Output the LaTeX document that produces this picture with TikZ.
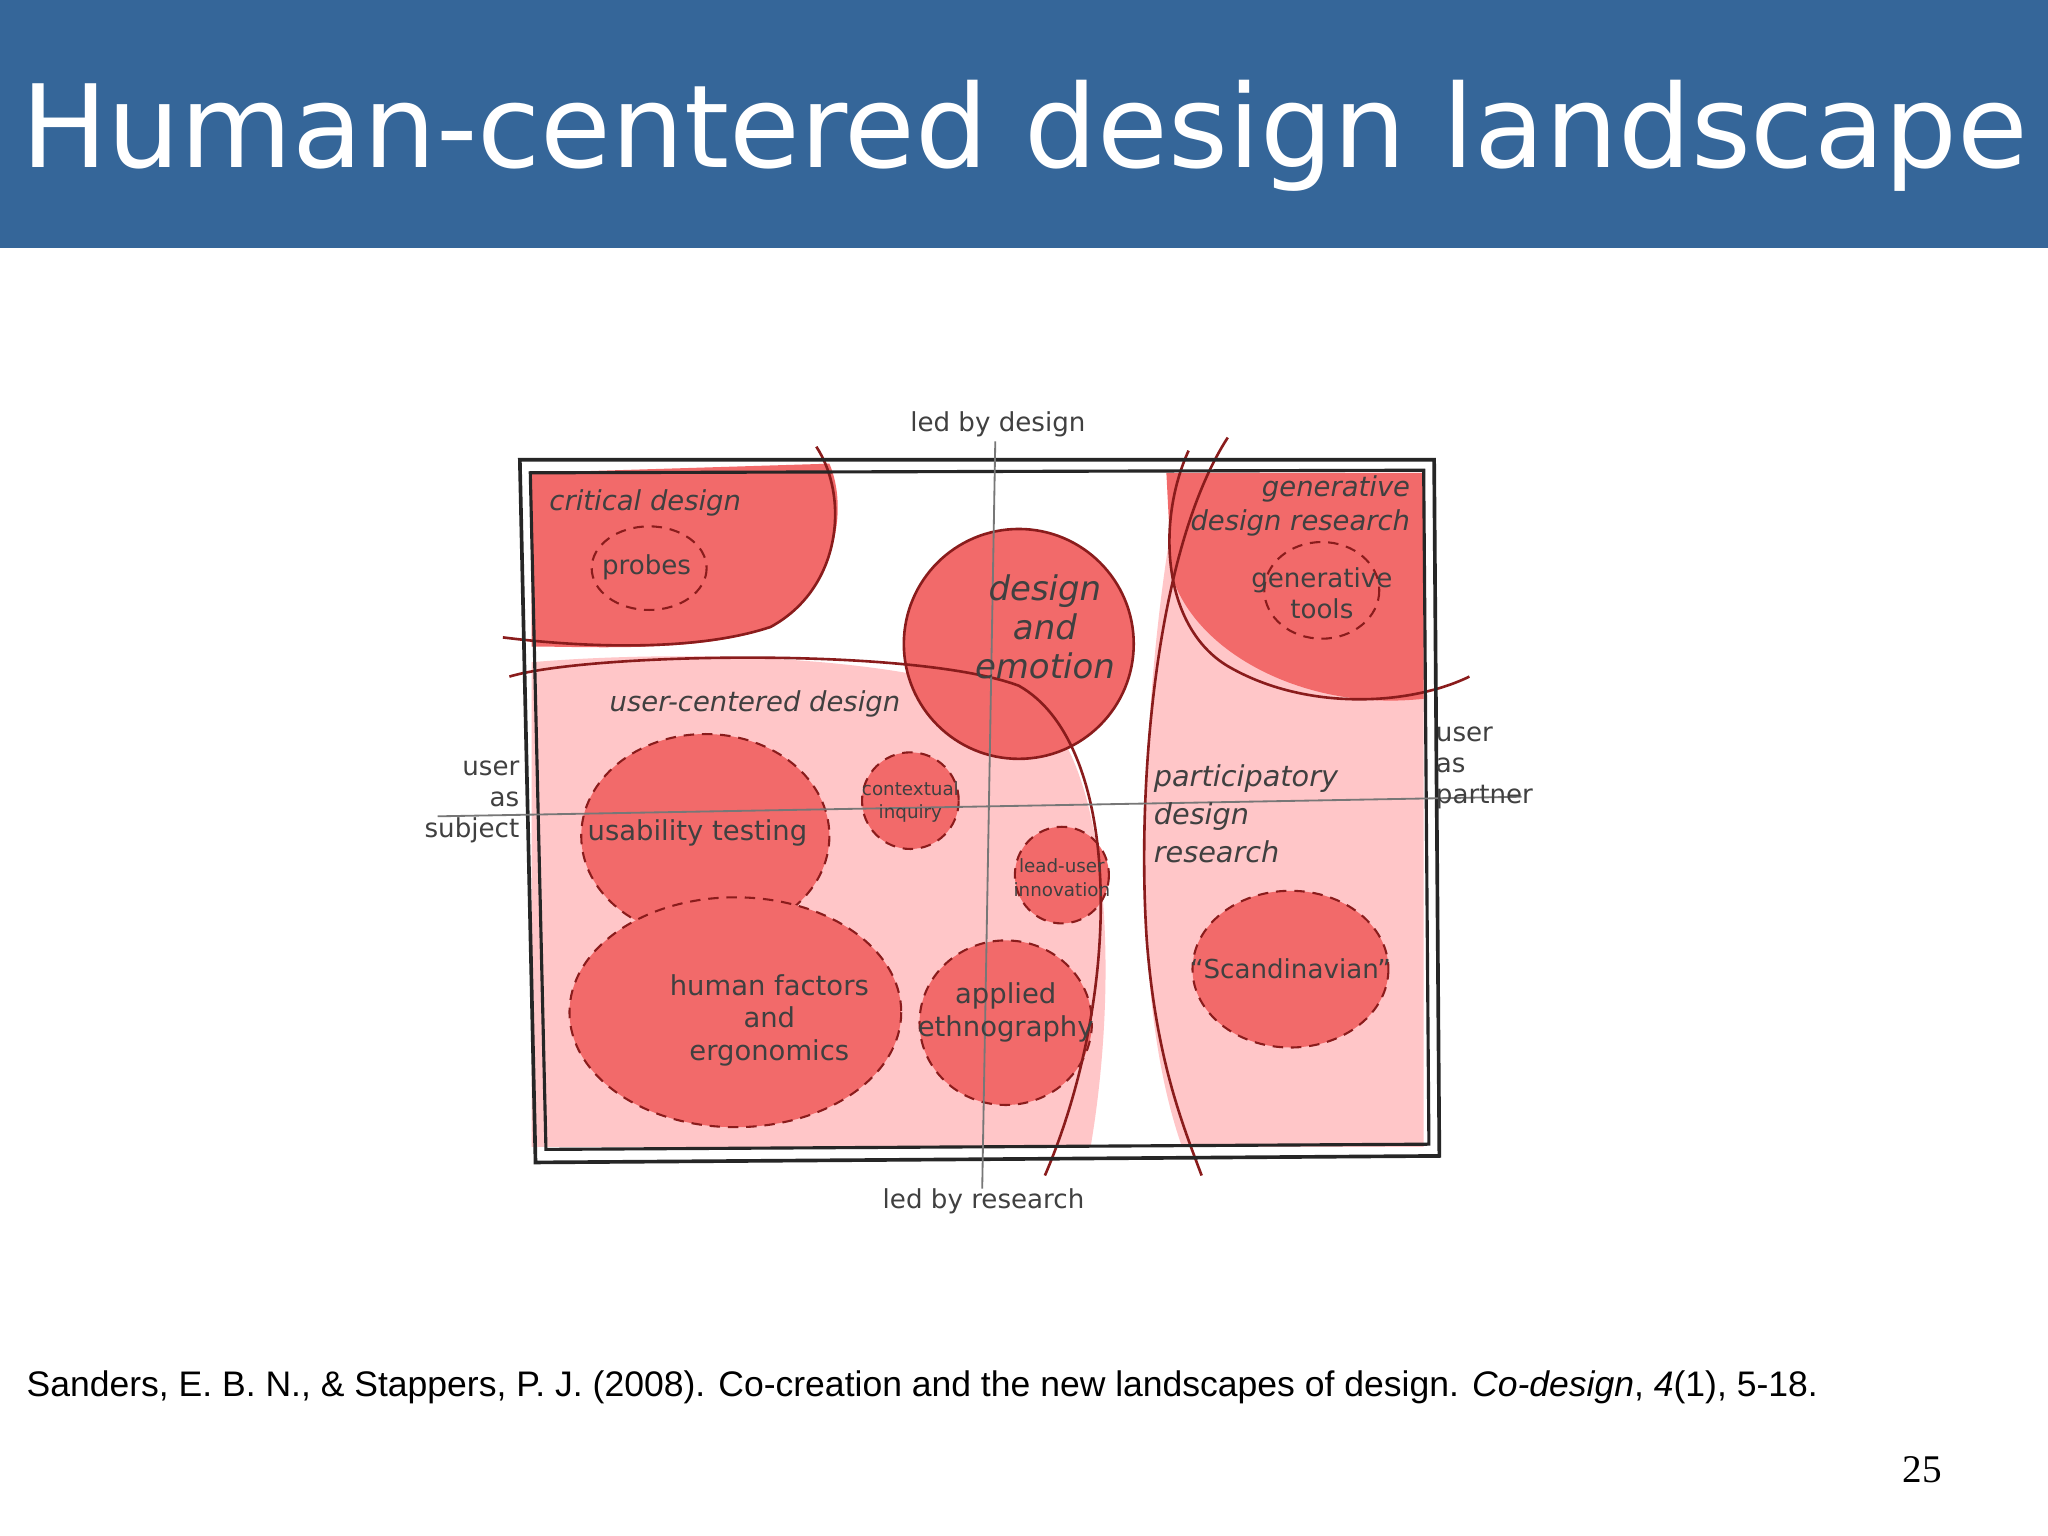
\documentclass[tikz,border=0pt]{standalone}
\usepackage{fontspec}
\setmainfont{DejaVu Sans}
\newfontfamily\citefont{Liberation Sans}
\newfontfamily\numfont{Liberation Serif}
\definecolor{band}{HTML}{356699}
\definecolor{lpink}{HTML}{FFC6C8}
\definecolor{rred}{HTML}{F26A6A}
\definecolor{dred}{HTML}{8A1C1C}
\definecolor{axis}{HTML}{777777}
\tikzset{
  blob/.style={fill=rred,draw=dred,dashed,line width=0.8pt,dash pattern=on 4pt off 3pt},
  edge/.style={draw=dred,line width=1pt},
  lab/.style={font=\fontsize{10}{12}\selectfont,text=black!75,align=center,inner sep=0pt},
  ilab/.style={font=\fontsize{10.5}{13}\selectfont\itshape,text=black!75,align=left,inner sep=0pt},
}
\begin{document}
\begin{tikzpicture}[x=0.5pt,y=-0.5pt]
\useasboundingbox (0,0) rectangle (1568,1176);
\fill[white] (0,0) rectangle (1568,1176);
\fill[band] (0,0) rectangle (1568,190);
\node[anchor=base west,text=white,font=\fontsize{44}{50}\selectfont,inner sep=0pt] (title) at (16,128) {Human-centered design landscape};
% regions
\fill[lpink] (407,507) .. controls (550,495) and (760,505) .. (810,560) .. controls (850,620) and (855,760) .. (835,878) -- (407,878) -- cycle;
\fill[lpink] (905,362) .. controls (885,450) and (872,600) .. (878,720) .. controls (882,800) and (895,850) .. (905,878) -- (1090,878) -- (1090,362) -- cycle;
\fill[rred] (893,362) -- (1090,362) -- (1090,535) .. controls (1000,545) and (915,500) .. (897,440) -- cycle;
\fill[rred] (407,362) -- (635,355) .. controls (650,390) and (640,450) .. (590,480) .. controls (540,500) and (450,495) .. (407,495) -- cycle;
% circles
\draw[blob] (540,640) ellipse [x radius=95,y radius=78];
\draw[blob] (563,775) ellipse [x radius=127,y radius=88];
\draw[blob] (697,613) circle [radius=37];
\draw[blob] (813,670) ellipse [x radius=36,y radius=37];
\draw[blob] (770,783) ellipse [x radius=66,y radius=63];
\draw[blob] (988,742) ellipse [x radius=75,y radius=60];
\draw[blob,fill=none] (497,435) ellipse [x radius=44,y radius=32];
\draw[blob,fill=none] (1012,452) ellipse [x radius=44,y radius=37];
\draw[edge,fill=rred] (780,493) circle [radius=88];
% boundary curves
\draw[edge] (390,518) .. controls (450,500) and (700,495) .. (780,525) .. controls (860,570) and (860,760) .. (800,900);
\draw[edge] (625,342) .. controls (650,380) and (645,450) .. (590,480) .. controls (530,500) and (440,495) .. (385,488);
\draw[edge] (940,335) .. controls (885,420) and (870,600) .. (878,720) .. controls (885,810) and (905,860) .. (920,900);
\draw[edge] (910,345) .. controls (885,400) and (890,480) .. (940,510) .. controls (1000,545) and (1080,540) .. (1125,518);
% frame
\draw[line width=1.4pt,black!85] (398,352) -- (1098,352) -- (1102,885) -- (410,890) -- cycle;
\draw[line width=1.2pt,black!85] (406,362) -- (1090,360) -- (1094,876) -- (418,880) -- cycle;
% axes
\coordinate (t) at (762,338);
\coordinate (b) at (752,910);
\coordinate (l) at (335,625);
\coordinate (r) at (1165,610);
\draw[axis,line width=0.7pt] (t) -- (b);
\draw[axis,line width=0.7pt] (l) -- (r);
% texts
\node[lab,anchor=south] (ld) at (764,335) {led by design};
\node[lab,anchor=north] (lr) at (753,910) {led by research};
\node[lab,anchor=east,align=right] (us) at (398,614) {user\\as\\subject};
\node[lab,anchor=west,align=left] (up) at (1099,588) {user\\as\\partner};
\node[ilab] (cd) at (494,385) {critical design};
\node[lab] (pr) at (495,434) {probes};
\node[ilab,align=right,anchor=east] (gdr) at (1080,387) {generative\\design research};
\node[lab] (gt) at (1012,454) {generative\\tools};
\node[ilab,align=center,font=\fontsize{13}{15}\selectfont\itshape] (de) at (800,480) {design\\and\\emotion};
\node[ilab] (ucd) at (578,539) {user-centered design};
\node[lab,font=\fontsize{10.5}{12}\selectfont] (ut) at (534,638) {usability testing};
\node[lab,font=\fontsize{7}{9}\selectfont] (ci) at (697,614) {contextual\\inquiry};
\node[lab,font=\fontsize{7}{9}\selectfont] (lu) at (813,672) {lead-user\\innovation};
\node[lab,font=\fontsize{10.5}{12.5}\selectfont] (hf) at (589,781) {human factors\\and\\ergonomics};
\node[lab,font=\fontsize{10.5}{12.5}\selectfont] (ae) at (770,775) {applied\\ethnography};
\node[ilab,anchor=north west,font=\fontsize{11}{14.5}\selectfont\itshape] (pdr) at (883,585) {participatory\\design\\research};
\node[lab,font=\fontsize{10}{12}\selectfont] (sc) at (988,742) {``Scandinavian''};
\node[anchor=base west,inner sep=0pt,font=\citefont\fontsize{13.6}{16}\selectfont] (cite) at (20,1069) {Sanders, E. B. N., \& Stappers, P. J. (2008). Co-creation and the new landscapes of design. \textit{Co-design}, \textit{4}(1), 5-18.};
\node[anchor=base east,inner sep=0pt,font=\numfont\fontsize{15}{18}\selectfont] (pg) at (1487,1135) {25};
\end{tikzpicture}
\end{document}
